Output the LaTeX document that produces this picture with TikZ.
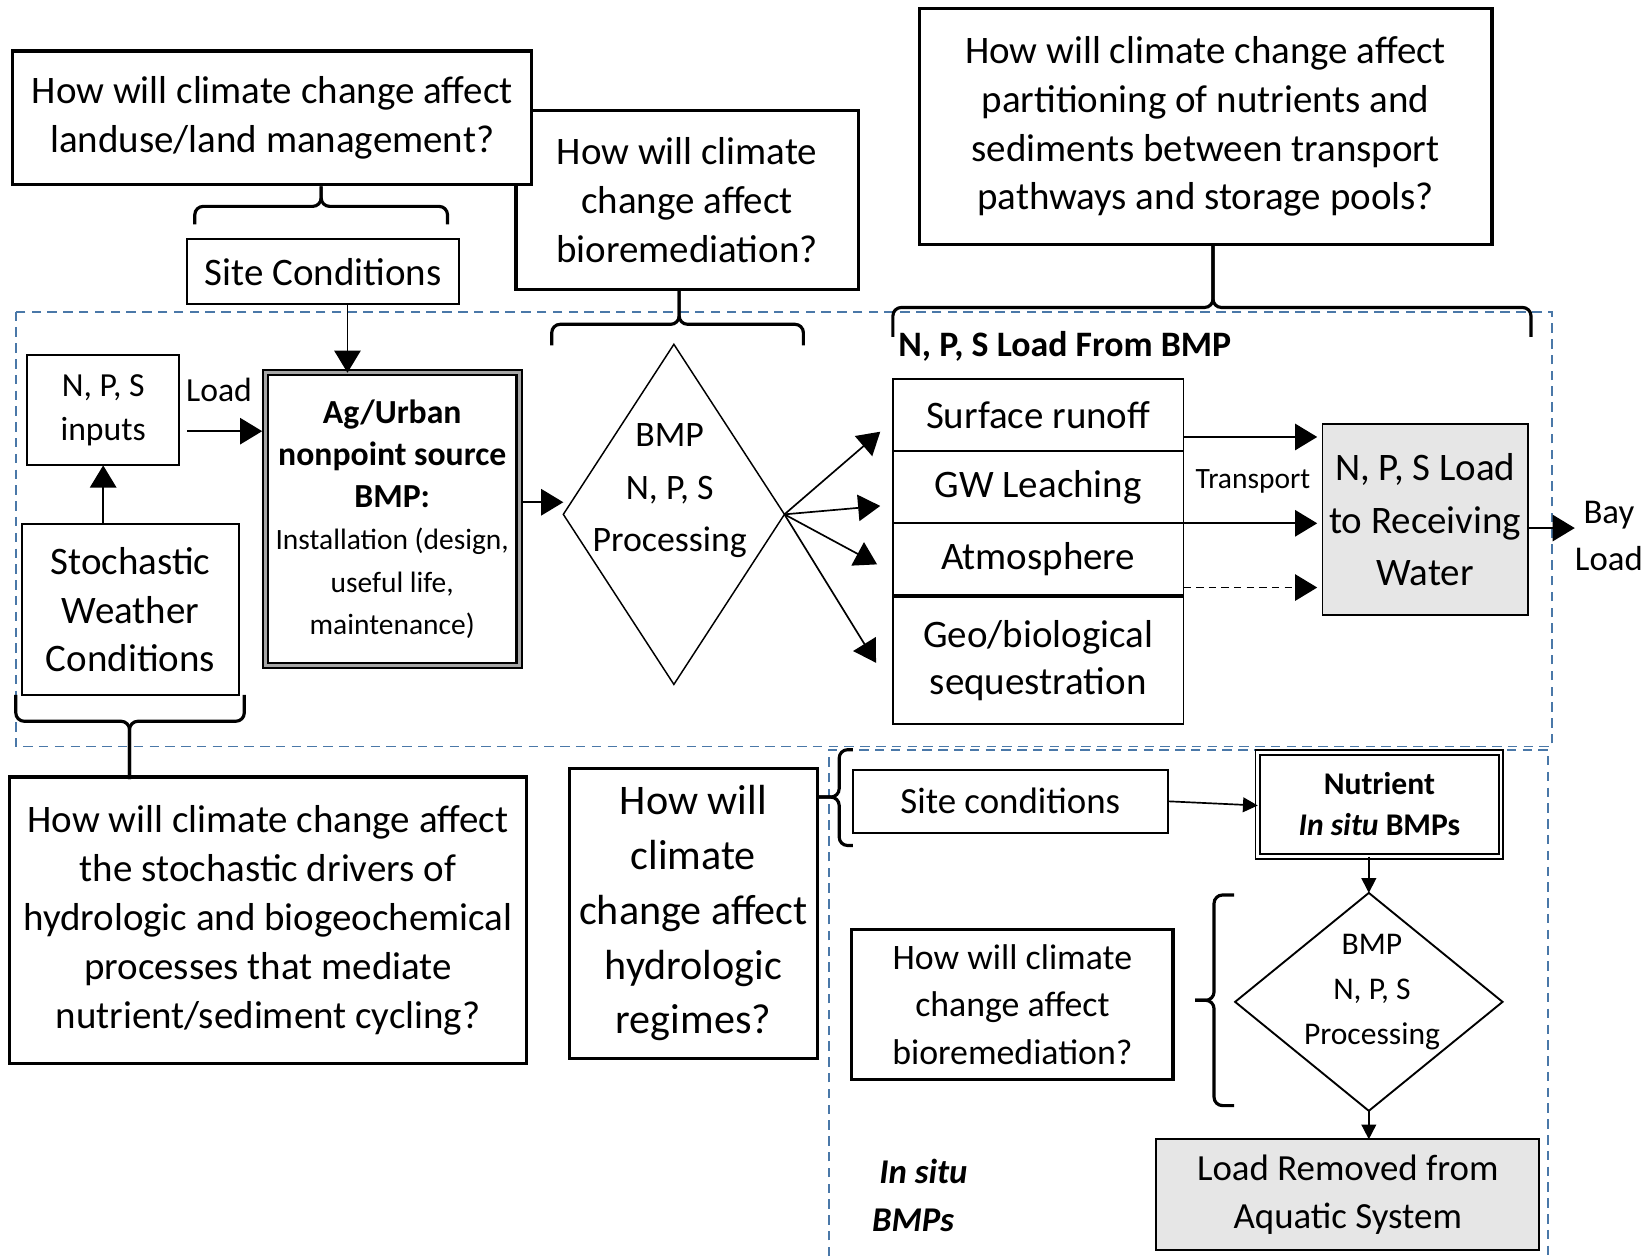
\documentclass[tikz,border=0pt]{standalone}
\usepackage{fontspec}
\setmainfont{Carlito}
\usetikzlibrary{arrows.meta,shapes.geometric,calc}

\definecolor{frameblue}{RGB}{74,120,168}
\definecolor{loadgray}{RGB}{230,230,230}

\begin{document}
\begin{tikzpicture}[x=1pt,y=-1pt,
  qbox/.style={draw, fill=white, line width=3pt, align=center, inner sep=0pt, outer sep=0pt},
  plainbox/.style={draw, line width=1.8pt, align=center, inner sep=0pt, outer sep=0pt},
  txt/.style={align=center, inner sep=0pt},
  brk/.style={line width=3pt, rounded corners=8pt},
  arr/.style={line width=1.6pt, -{Triangle[length=21pt,width=25pt]}},
  sarr/.style={line width=1.6pt, -{Triangle[length=14pt,width=14pt]}},
  region/.style={frameblue, line width=1.8pt, dash pattern=on 9pt off 6pt},
  fq/.style={font=\fontsize{37}{46.5}\selectfont},
  fbig/.style={font=\fontsize{40}{52}\selectfont},
  fmid/.style={font=\fontsize{34}{45}\selectfont},
  fsmall/.style={font=\fontsize{32}{42}\selectfont},
]
\fill[white] (0,0) rectangle (1568,1193);
\useasboundingbox (0,0) rectangle (1568,1193);

% dashed system boundaries
\draw[region] (15,296) rectangle (1474,709);
\draw[region] (787,1193) -- (787,712) -- (1470,712) -- (1470,1193);

% question boxes (the land-use box sits on top of the bioremediation box)
\node[qbox, fq, minimum width=325pt, minimum height=170pt] (q2) at (652.5,190)
  {How will climate\\change affect\\bioremediation?};
\node[qbox, fq, minimum width=493pt, minimum height=127pt] (q1) at (258.5,112)
  {How will climate change affect\\landuse/land management?};
\node[qbox, fq, minimum width=544pt, minimum height=224pt] (q3) at (1145,120)
  {How will climate change affect\\partitioning of nutrients and\\sediments between transport\\pathways and storage pools?};
\node[qbox, fq, minimum width=491pt, minimum height=272pt] (q4) at (254.5,874)
  {How will climate change affect\\the stochastic drivers of\\hydrologic and biogeochemical\\processes that mediate\\nutrient/sediment cycling?};
\node[qbox, fbig, minimum width=235pt, minimum height=275pt] (q5) at (658.5,867.5)
  {How will\\climate\\change affect\\hydrologic\\regimes?};
\node[qbox, fmid, minimum width=305pt, minimum height=142pt] (q6) at (961.5,954)
  {How will climate\\change affect\\bioremediation?};

% upper system
\node[plainbox, fq, minimum width=258pt, minimum height=62pt] (sc) at (307,258) {Site Conditions};
\node[plainbox, fsmall, minimum width=144pt, minimum height=105pt] (inp) at (98,389.5) {N, P, S\\inputs};
\node[plainbox, fq, font=\fontsize{37}{46}\selectfont, minimum width=206pt, minimum height=162pt] (st) at (124,579)
  {Stochastic\\Weather\\Conditions};
\node[draw, line width=2pt, double=gray!70, double distance=3pt, align=center, inner sep=0pt, outer sep=0pt,
  font=\fontsize{32}{40}\selectfont, minimum width=241pt, minimum height=278pt] (ag) at (372.5,493)
  {\textbf{Ag/Urban}\\\textbf{nonpoint source}\\\textbf{BMP:}\\
   {\fontsize{28}{40}\selectfont Installation (design,}\\
   {\fontsize{28}{40}\selectfont useful life,}\\
   {\fontsize{28}{40}\selectfont maintenance)}};
\node[txt, font=\fontsize{32}{40}\selectfont] (ld) at (208,370) {Load};

\node[draw, diamond, line width=1.4pt, inner sep=0pt, outer sep=0pt,
  minimum width=210pt, minimum height=323pt] (d1) at (640,488.5) {};
\node[txt, font=\fontsize{34}{49.5}\selectfont] (d1t) at (636,466) {BMP\\N, P, S\\Processing};

\node[txt, anchor=west, font=\fontsize{34}{40}\selectfont\bfseries] (lfb) at (853,329) {N, P, S Load From BMP};
\node[plainbox, fq, minimum width=276pt, minimum height=68pt] (sr) at (986,394) {Surface runoff};
\node[plainbox, fq, minimum width=276pt, minimum height=69pt] (gw) at (986,462.5) {GW Leaching};
\node[plainbox, fq, minimum width=276pt, minimum height=68pt] (at) at (986,531) {Atmosphere};
\node[plainbox, fq, font=\fontsize{37}{45}\selectfont, minimum width=276pt, minimum height=121pt] (geo) at (986,627.5)
  {Geo/biological\\sequestration};

\node[plainbox, fill=loadgray, font=\fontsize{37}{50}\selectfont, minimum width=195pt, minimum height=181pt] (rw) at (1353.5,493.5)
  {N, P, S Load\\to Receiving\\Water};
\node[txt, font=\fontsize{28}{34}\selectfont] (tr) at (1190,457) {Transport};
\node[txt, font=\fontsize{33}{44}\selectfont] (bay) at (1528,509) {Bay\\Load};

% lower (in situ) system
\node[plainbox, font=\fontsize{35}{42}\selectfont, minimum width=299pt, minimum height=60pt] (sc2) at (959.5,761) {Site conditions};
\node[draw, line width=1.8pt, double=white, double distance=2.5pt, align=center, inner sep=0pt, outer sep=0pt,
  font=\fontsize{30}{39}\selectfont, minimum width=231pt, minimum height=99pt] (nut) at (1310,764)
  {\textbf{Nutrient}\\\textbf{\textit{In situ} BMPs}};
\node[draw, diamond, line width=1.8pt, inner sep=0pt, outer sep=0pt,
  minimum width=254pt, minimum height=207pt] (d2) at (1300,951.5) {};
\node[txt, font=\fontsize{30}{42.5}\selectfont] (d2t) at (1303,942) {BMP\\N, P, S\\Processing};
\node[plainbox, fill=loadgray, font=\fontsize{35}{45}\selectfont, minimum width=364pt, minimum height=105pt] (lr) at (1280,1134.5)
  {Load Removed from\\Aquatic System};
\node[txt, align=left, anchor=west, font=\fontsize{33}{45}\selectfont\bfseries\itshape] (isb) at (828,1135.5)
  {\hspace*{7pt}In situ\\BMPs};

% braces linking questions to the parts they concern
\draw[brk] (185,213) -- (185,196) -- (305,196) -- (305,177);
\draw[brk] (425,213) -- (425,196) -- (305,196) -- (305,177);
\draw[brk] (524,328) -- (524,308) -- (645,308) -- (645,275);
\draw[brk] (763,328) -- (763,308) -- (645,308) -- (645,275);
\draw[brk] (848,320) -- (848,292) -- (1152,292) -- (1152,232);
\draw[brk] (1454,320) -- (1454,292) -- (1152,292) -- (1152,232);
\draw[brk] (15,660) -- (15,685) -- (123,685) -- (123,740);
\draw[brk] (232,660) -- (232,685) -- (123,685) -- (123,740);
\draw[brk] (810,712) -- (797,712) -- (797,757) -- (776,757);
\draw[brk] (810,803) -- (797,803) -- (797,757) -- (776,757);
\draw[brk] (1172,850) -- (1153,850) -- (1153,950) -- (1135,950);
\draw[brk] (1172,1050) -- (1153,1050) -- (1153,950) -- (1135,950);

% connectors, upper system
\draw[arr] ([xshift=23pt]sc.south) -- ([xshift=23pt]sc.south |- ag.north);
\draw[arr] (inp.south |- st.north) -- (inp.south);
\path ([yshift=-20pt]inp.east) coordinate (c1);
\draw[arr, shorten >=3pt] ([xshift=8pt]c1) -- (c1 -| ag.west);
\path ([yshift=16pt]ag.east) coordinate (c2);
\draw[arr, shorten <=3pt] (c2) -- (c2 -| d1.west);
\draw[arr] (d1.east) -- ([xshift=-12pt,yshift=-16pt]sr.west);
\draw[arr] (d1.east) -- ([xshift=-12pt,yshift=-18pt]gw.west);
\draw[arr] (d1.east) -- ([xshift=-15pt,yshift=-5pt]at.west);
\draw[arr] (d1.east) -- ([xshift=-16pt,yshift=-2pt]geo.west);
\path ([yshift=-21pt]sr.east) coordinate (c3);
\draw[arr, shorten >=5pt] (c3) -- (c3 -| rw.west);
\path (gw.south east) coordinate (c4);
\draw[arr, shorten >=5pt] (c4) -- (c4 -| rw.west);
\path ([yshift=-27pt]at.east) coordinate (c5);
\draw[arr, dash pattern=on 7pt off 5pt, shorten >=5pt] (c5) -- (c5 -| rw.west);
\path ([yshift=-8pt]rw.east) coordinate (c6);
\draw[arr] (c6) -- (c6 -| bay.west);

% connectors, in situ system
\draw[sarr] (sc2.east) -- ([yshift=-1pt]nut.west);
\draw[sarr] (d2.north |- nut.south) -- (d2.north);
\draw[sarr] (d2.south) -- (d2.south |- lr.north);
\end{tikzpicture}
\end{document}
